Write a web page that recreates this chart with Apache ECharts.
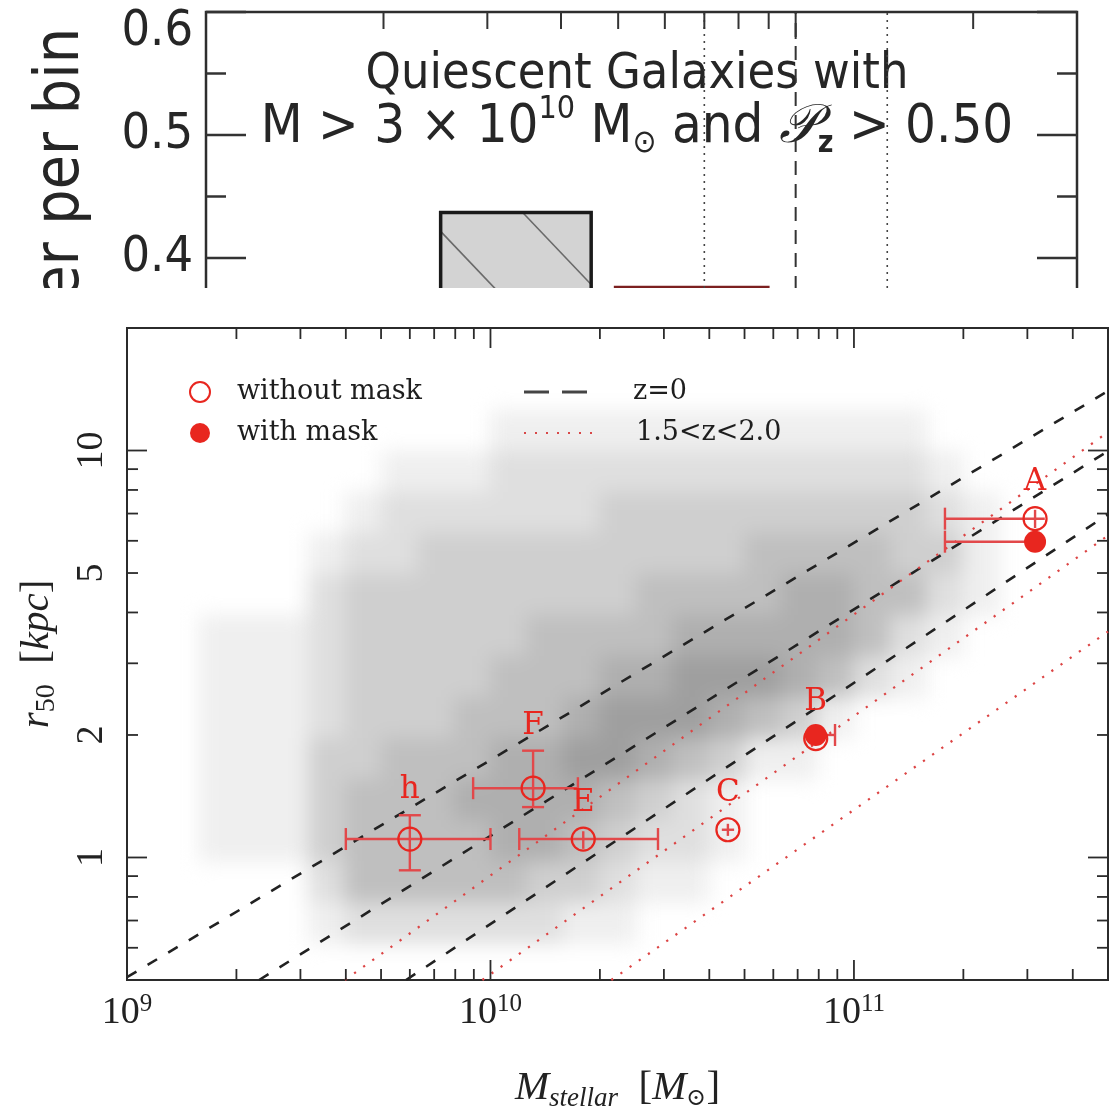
<!DOCTYPE html>
<html>
<head>
<meta charset="utf-8">
<script src="https://cdn.jsdelivr.net/npm/echarts/dist/echarts.min.js"></script>
<style>
  html, body { margin: 0; padding: 0; background: #fff; }
  #page { position: relative; width: 1112px; height: 1117px; overflow: hidden; background: #fff; }
  #histWindow { position: absolute; left: 0; top: 0; width: 1112px; height: 288px; overflow: hidden; }
  #hist { position: absolute; left: 0; top: 0; width: 1112px; height: 780px; }
  #density { position: absolute; left: 0; top: 288px; width: 1112px; height: 829px; filter: blur(10px); }
  #sizes { position: absolute; left: 0; top: 288px; width: 1112px; height: 829px; }
</style>
</head>
<body>
<div id="page">
  <div id="histWindow"><div id="hist"></div></div>
  <div id="density"></div>
  <div id="sizes"></div>
</div>
<script>
// ---------------- upper panel: histogram (size ratio, log axis) ----------------
const histBinLo = [0.25, 0.495];
const histBinHi = [0.45, 0.897];
const histHeights = [0.437, 0.376];
const histRefLines = [0.7, 1.0, 1.43];
const histYTicks = [0.05, 0.1, 0.15, 0.2, 0.25, 0.3, 0.35, 0.4, 0.45, 0.5, 0.55, 0.6];
const histXTicks = [0.2, 0.3, 0.4, 0.5, 0.6, 0.7, 0.8, 0.9, 1, 2];
const histXMajor = [1];

// ---------------- lower panel: size–mass relation ----------------
const massTicks = [1e9, 2e9, 3e9, 4e9, 5e9, 6e9, 7e9, 8e9, 9e9,
                   1e10, 2e10, 3e10, 4e10, 5e10, 6e10, 7e10, 8e10, 9e10,
                   1e11, 2e11, 3e11, 4e11];
const massMajorTicks = [1e9, 1e10, 1e11];
const sizeTicks = [0.6, 0.7, 0.8, 0.9, 1, 2, 3, 4, 5, 6, 7, 8, 9, 10];
const sizeMajorTicks = [1, 10];
const sizeTickLabels = [1, 2, 5, 10];

// local relation (z=0): centre and scatter envelope, as [start, end]
const z0Mass = [[1e9, 5e11], [2.31e9, 5e11], [5.86e9, 5e11]];
const z0Size = [[0.508, 14.0], [0.5, 9.97], [0.5, 6.97]];
// 1.5<z<2.0 relation: centre and envelope
const hizMass = [[3.98e9, 5e11], [9.5e9, 5e11], [2.15e10, 5e11]];
const hizSize = [[0.5, 11.1], [0.5, 6.18], [0.5, 3.59]];

// individual galaxies, measured without mask
const galaxyNames = ['h', 'F', 'E', 'C', 'B', 'A'];
const massNoMask = [6.0e9, 1.31e10, 1.80e10, 4.50e10, 7.85e10, 3.15e11];
const sizeNoMask = [1.11, 1.48, 1.11, 1.17, 1.96, 6.80];
const massLo = [4.0e9, 8.96e9, 1.20e10, 4.33e10, 7.85e10, 1.78e11];
const massHi = [1.0e10, 1.74e10, 2.89e10, 4.68e10, 7.85e10, 3.35e11];
const sizeLo = [0.93, 1.33, 1.05, 1.13, 1.96, 6.45];
const sizeHi = [1.27, 1.83, 1.16, 1.21, 1.96, 7.15];
// measured with mask
const massMask = [7.85e10, 3.15e11];
const sizeMask = [2.00, 5.97];
const massMaskLo = [7.85e10, 1.78e11];
const massMaskHi = [8.87e10, 3.15e11];

// background galaxy density: cells of 0.1 dex, log M from 9.2, log r rows from 1.2 (top) downwards
const densityLogMassStart = 9.2;
const densityLogSizeTop = 1.2;
const densityRows = [
  [0,0,0,0,0,0,0,0,0,0,0,0,0,0,0,0,0,0,0,0,0,0,0],
  [0,0,0,0,0,0,0,0,1,1,1,1,1,1,1,1,1,1,1,1,0,0,0],
  [0,0,0,0,0,1,1,1,2,2,2,2,2,2,2,2,2,2,2,2,1,0,0],
  [0,0,0,0,1,2,2,2,2,2,2,3,3,3,3,3,3,3,3,3,2,1,0],
  [0,0,0,1,2,2,3,3,3,3,3,3,3,3,3,4,4,4,4,3,3,1,0],
  [0,0,0,2,3,3,3,3,3,3,3,3,4,4,4,4,5,5,4,4,2,1,0],
  [1,1,1,2,3,3,3,3,3,4,4,4,4,5,5,5,5,5,4,2,1,0,0],
  [1,1,1,2,3,3,3,3,4,4,4,5,5,6,6,6,5,4,2,1,0,0,0],
  [1,1,1,2,3,3,3,4,4,4,5,6,6,6,5,4,3,1,0,0,0,0,0],
  [1,1,1,3,3,4,4,4,5,5,6,6,5,4,3,1,1,0,0,0,0,0,0],
  [1,1,1,3,4,4,4,5,5,5,5,4,3,2,1,0,0,0,0,0,0,0,0],
  [1,1,1,3,4,4,4,4,5,5,4,3,2,2,1,0,0,0,0,0,0,0,0],
  [0,0,0,2,4,4,4,4,4,3,3,2,1,1,0,0,0,0,0,0,0,0,0],
  [0,0,0,1,2,2,2,2,2,2,1,1,0,0,0,0,0,0,0,0,0,0,0]
];

// ---------------- shared styling ----------------
const sansNarrow = "'DejaVu Sans Condensed','Liberation Sans Narrow','Liberation Sans',sans-serif";
const sansTick = "'Liberation Sans Narrow','DejaVu Sans Condensed','Liberation Sans',sans-serif";
const serif = "'Liberation Serif','DejaVu Serif',serif";
const serifWide = "'DejaVu Serif','Liberation Serif',serif";
const red = '#e8261f';
const errRed = '#e2484a';
const ink = '#262626';

function seg(x1, y1, x2, y2, stroke, w) {
  return { type: 'line', shape: { x1, y1, x2, y2 }, style: { stroke, lineWidth: w } };
}

// ================= upper panel =================
const histChart = echarts.init(document.getElementById('hist'));
const refStyles = [
  { type: [2, 5], width: 1.6, color: '#444' },
  { type: [14, 9], width: 2, color: '#333' },
  { type: [2, 5], width: 1.6, color: '#444' }
];

histChart.setOption({
  animation: false,
  grid: { left: 206, right: 35, top: 12, bottom: 30, show: true,
          borderColor: '#2e2e2e', borderWidth: 2.5, backgroundColor: '#fff' },
  xAxis: { type: 'log', logBase: 10, min: 0.1, max: 3, show: false },
  yAxis: {
    type: 'value', min: 0, max: 0.6, interval: 0.1,
    axisLine: { show: false }, axisTick: { show: false }, splitLine: { show: false },
    axisLabel: {
      margin: 13,
      formatter: v => (v > 0.59 ? '{t|0.6}' : '{n|' + v.toFixed(1) + '}'),
      rich: {
        t: { fontSize: 50, fontFamily: sansTick, color: ink, padding: [40, 0, 0, 0] },
        n: { fontSize: 50, fontFamily: sansTick, color: ink }
      }
    }
  },
  graphic: [
    { type: 'text', x: 637, y: 75,
      style: { text: 'Quiescent Galaxies with', font: '50px ' + sansNarrow, fill: ink,
               textAlign: 'center', textVerticalAlign: 'middle' } },
    { type: 'text', x: 637, y: 128,
      style: {
        text: '{n|M > 3 × 10}{sup|10}{n| M}{sub|⊙}{n| and }{p|𝒫}{subz|z}{n| > 0.50}',
        textAlign: 'center', textVerticalAlign: 'middle', fill: ink,
        rich: {
          n: { fontSize: 54, fontFamily: sansNarrow, fill: ink },
          sup: { fontSize: 32, fontFamily: sansNarrow, fill: ink, padding: [0, 0, 36, 0] },
          sub: { fontSize: 32, fontFamily: sansNarrow, fill: ink, padding: [32, 0, 0, 0] },
          p: { fontSize: 54, fontFamily: "'DejaVu Serif','DejaVu Sans',serif", fontStyle: 'italic', fill: ink },
          subz: { fontSize: 30, fontWeight: 'bold', fontFamily: sansNarrow, fill: ink, padding: [32, 0, 0, 0] }
        }
      } },
    { type: 'text', x: 62, y: 28, rotation: Math.PI / 2,
      style: { text: 'Number per bin', font: '62px ' + sansNarrow, fill: ink,
               textAlign: 'right', textVerticalAlign: 'middle' } }
  ],
  series: [
    {
      type: 'custom', silent: true, clip: false, z: 2,
      data: histBinLo.map((lo, i) => [lo, histBinHi[i], histHeights[i]]),
      encode: { x: [0, 1], y: 2 },
      renderItem: (params, api) => {
        const i = params.dataIndex;
        const p0 = api.coord([api.value(0), api.value(2)]);
        const p1 = api.coord([api.value(1), 0]);
        const x0 = p0[0], y0 = p0[1], x1 = p1[0], y1 = p1[1];
        const kids = [];
        if (i === 0) {
          kids.push({ type: 'rect', shape: { x: x0, y: y0, width: x1 - x0, height: y1 - y0 },
                      style: { fill: '#d3d3d3' } });
          // diagonal hatching clipped to the bar
          const k = 1.05, step = 100, hgt = y1 - y0;
          for (let c = x0 - 18 - step * 10; c < x1; c += step) {
            const xs = Math.max(x0, c), xe = Math.min(x1, c + hgt / k);
            if (xe > xs) kids.push(seg(xs, y0 + k * (xs - c), xe, y0 + k * (xe - c), '#6a6a6a', 1.6));
          }
          kids.push({ type: 'rect', shape: { x: x0, y: y0, width: x1 - x0, height: y1 - y0 },
                      style: { fill: 'none', stroke: '#1a1a1a', lineWidth: 3.5 } });
        } else {
          kids.push({ type: 'rect', shape: { x: x0, y: y0, width: x1 - x0, height: y1 - y0 },
                      style: { fill: 'none', stroke: '#7c2020', lineWidth: 3.5 } });
        }
        return { type: 'group', children: kids };
      }
    },
    ...histRefLines.map((v, i) => ({
      type: 'line', silent: true, symbol: 'none', z: 3,
      data: [[v, 0], [v, 0.6]],
      lineStyle: refStyles[i]
    })),
    {
      type: 'custom', silent: true, clip: false, z: 5,
      data: [[1, 0.3]],
      renderItem: (params, api) => {
        const cs = params.coordSys;
        const kids = [];
        histYTicks.forEach(v => {
          const y = api.coord([1, v])[1];
          const major = Math.abs(v * 10 - Math.round(v * 10)) < 1e-6;
          const len = major ? 40 : 20;
          kids.push(seg(cs.x, y, cs.x + len, y, '#333', 2.5));
          kids.push(seg(cs.x + cs.width, y, cs.x + cs.width - len, y, '#333', 2.5));
        });
        histXTicks.forEach(v => {
          const x = api.coord([v, 0.5])[0];
          const len = histXMajor.includes(v) ? 27 : 17;
          kids.push(seg(x, cs.y, x, cs.y + len, '#333', 2));
        });
        return { type: 'group', children: kids };
      }
    }
  ]
});

// ================= lower panel =================
const gridBox = { left: 127, right: 4, top: 40, bottom: 132 };
const logX = { type: 'log', logBase: 10, min: 1e9, max: 5e11 };
const logY = { type: 'log', logBase: 10, min: 0.5, max: 20 };

// density layer (drawn separately so it can be softened)
const densityChart = echarts.init(document.getElementById('density'));
const densityCells = [];
densityRows.forEach((row, r) => row.forEach((v, c) => {
  if (v > 0) densityCells.push([densityLogMassStart + 0.1 * c, densityLogSizeTop - 0.1 * (r + 1), v]);
}));
densityChart.setOption({
  animation: false,
  grid: Object.assign({ show: false }, gridBox),
  xAxis: Object.assign({ show: false }, logX),
  yAxis: Object.assign({ show: false }, logY),
  series: [{
    type: 'custom', silent: true, clip: true,
    data: densityCells.map(d => [Math.pow(10, d[0]), Math.pow(10, d[1]), d[2]]),
    encode: { x: 0, y: 1 },
    renderItem: (params, api) => {
      const m = Math.log10(api.value(0)), r = Math.log10(api.value(1)), v = api.value(2);
      const a = api.coord([Math.pow(10, m), Math.pow(10, r + 0.1)]);
      const b = api.coord([Math.pow(10, m + 0.1), Math.pow(10, r)]);
      const g = Math.round(255 - 16 * v);
      return { type: 'rect', shape: { x: a[0] - 0.5, y: a[1] - 0.5, width: b[0] - a[0] + 1, height: b[1] - a[1] + 1 },
               style: { fill: 'rgb(' + g + ',' + g + ',' + g + ')' } };
    }
  }]
});

const sizeChart = echarts.init(document.getElementById('sizes'));
const legendY1 = 104, legendY2 = 145;

function relationSeries(massArr, sizeArr, style) {
  return massArr.map((m, i) => ({
    type: 'line', silent: true, symbol: 'none', z: 2,
    data: [[m[0], sizeArr[i][0]], [m[1], sizeArr[i][1]]],
    lineStyle: style
  }));
}

function errorSeries(mass, size, mLo, mHi, rLo, rHi, names) {
  return {
    type: 'custom', silent: true, clip: false, z: 3,
    data: mass.map((m, i) => [m, size[i], mLo[i], mHi[i], rLo[i], rHi[i]]),
    encode: { x: 0, y: 1 },
    renderItem: (params, api) => {
      const i = params.dataIndex;
      const c = api.coord([api.value(0), api.value(1)]);
      const pl = api.coord([api.value(2), api.value(1)]);
      const pr = api.coord([api.value(3), api.value(1)]);
      const pt = api.coord([api.value(0), api.value(5)]);
      const pb = api.coord([api.value(0), api.value(4)]);
      const kids = [];
      const cap = 11, w = 2.4;
      if (pr[0] - pl[0] > 1) kids.push(seg(pl[0], c[1], pr[0], c[1], errRed, w));
      if (c[0] - pl[0] > 13) kids.push(seg(pl[0], c[1] - cap, pl[0], c[1] + cap, errRed, w));
      if (pr[0] - c[0] > 13) kids.push(seg(pr[0], c[1] - cap, pr[0], c[1] + cap, errRed, w));
      if (pb[1] - pt[1] > 1) kids.push(seg(c[0], pt[1], c[0], pb[1], errRed, w));
      if (c[1] - pt[1] > 13) kids.push(seg(c[0] - cap, pt[1], c[0] + cap, pt[1], errRed, w));
      if (pb[1] - c[1] > 13) kids.push(seg(c[0] - cap, pb[1], c[0] + cap, pb[1], errRed, w));
      if (names) {
        const top = Math.min(pt[1], c[1] - 11.5);
        kids.push({ type: 'text', x: c[0], y: top - 25,
                    style: { text: names[i], font: '31px ' + serifWide, fill: red,
                             textAlign: 'center', textVerticalAlign: 'middle' } });
      }
      return { type: 'group', children: kids };
    }
  };
}

sizeChart.setOption({
  animation: false,
  grid: Object.assign({ show: true, borderColor: '#2b2b2b', borderWidth: 2, backgroundColor: 'transparent' }, gridBox),
  xAxis: Object.assign({
    axisLine: { show: false }, axisTick: { show: false }, splitLine: { show: false },
    axisLabel: {
      customValues: massMajorTicks, margin: 12,
      formatter: v => '{b|10}{s|' + Math.round(Math.log10(v)) + '}',
      rich: {
        b: { fontSize: 38, fontFamily: serif, color: '#222' },
        s: { fontSize: 25, fontFamily: serif, color: '#222', padding: [0, 0, 18, 0] }
      }
    },
    name: '{it|M}{sub|stellar}{n|  [}{it|M}{sub2|⊙}{n|]}',
    nameLocation: 'middle', nameGap: 85, nameMoveOverlap: false,
    nameTextStyle: {
      rich: {
        it: { fontSize: 41, fontStyle: 'italic', fontFamily: serif, color: '#222' },
        n: { fontSize: 41, fontFamily: serif, color: '#222' },
        sub: { fontSize: 27, fontStyle: 'italic', fontFamily: serif, color: '#222', padding: [20, 0, 0, 0] },
        sub2: { fontSize: 24, fontFamily: serif, color: '#222', padding: [20, 0, 0, 0] }
      }
    }
  }, logX),
  yAxis: Object.assign({
    axisLine: { show: false }, axisTick: { show: false }, splitLine: { show: false },
    axisLabel: {
      customValues: sizeTickLabels, margin: 16, rotate: 90,
      fontSize: 38, fontFamily: serif, color: '#222',
      formatter: v => String(v)
    },
    name: '{it|r}{sub|50}{n|  [}{it|kpc}{n|]}',
    nameLocation: 'middle', nameGap: 66, nameRotate: 90, nameMoveOverlap: false,
    nameTextStyle: {
      rich: {
        it: { fontSize: 41, fontStyle: 'italic', fontFamily: serif, color: '#222' },
        n: { fontSize: 41, fontFamily: serif, color: '#222' },
        sub: { fontSize: 28, fontFamily: serif, color: '#222', padding: [20, 0, 0, 0] }
      }
    }
  }, logY),
  graphic: [
    { type: 'circle', shape: { cx: 200, cy: legendY1, r: 10 }, style: { fill: 'none', stroke: red, lineWidth: 2 } },
    { type: 'text', x: 237, y: legendY1, style: { text: 'without mask', font: '27px ' + serifWide, fill: '#1e1e1e', textVerticalAlign: 'middle' } },
    { type: 'circle', shape: { cx: 200, cy: legendY2, r: 10 }, style: { fill: red } },
    { type: 'text', x: 237, y: legendY2, style: { text: 'with mask', font: '27px ' + serifWide, fill: '#1e1e1e', textVerticalAlign: 'middle' } },
    { type: 'line', shape: { x1: 524, y1: legendY1, x2: 549, y2: legendY1 }, style: { stroke: '#444', lineWidth: 3 } },
    { type: 'line', shape: { x1: 562, y1: legendY1, x2: 587, y2: legendY1 }, style: { stroke: '#444', lineWidth: 3 } },
    { type: 'text', x: 633, y: legendY1, style: { text: 'z=0', font: '27px ' + serifWide, fill: '#1e1e1e', textVerticalAlign: 'middle' } },
    { type: 'line', shape: { x1: 524, y1: legendY2, x2: 595, y2: legendY2 }, style: { stroke: '#d84848', lineWidth: 2.2, lineDash: [2, 9] } },
    { type: 'text', x: 636, y: legendY2, style: { text: '1.5<z<2.0', font: '27px ' + serifWide, fill: '#1e1e1e', textVerticalAlign: 'middle' } }
  ],
  series: [
    ...relationSeries(z0Mass, z0Size, { type: [11, 13], width: 2.6, color: '#222' }),
    ...relationSeries(hizMass, hizSize, { type: [2.2, 9], width: 2.2, color: '#dc4444' }),
    errorSeries(massNoMask, sizeNoMask, massLo, massHi, sizeLo, sizeHi, galaxyNames),
    errorSeries(massMask, sizeMask, massMaskLo, massMaskHi, sizeMask, sizeMask, null),
    {
      type: 'scatter', silent: true, z: 4, symbol: 'circle', symbolSize: 23,
      data: massNoMask.map((m, i) => [m, sizeNoMask[i]]),
      itemStyle: { color: 'rgba(255,255,255,0)', borderColor: red, borderWidth: 2.2, opacity: 1 }
    },
    {
      type: 'scatter', silent: true, z: 5, symbol: 'circle', symbolSize: 22,
      data: massMask.map((m, i) => [m, sizeMask[i]]),
      itemStyle: { color: red, opacity: 1 }
    },
    {
      type: 'custom', silent: true, clip: false, z: 6,
      data: [[1e10, 1]],
      renderItem: (params, api) => {
        const cs = params.coordSys;
        const kids = [];
        const bottom = cs.y + cs.height, right = cs.x + cs.width;
        massTicks.forEach(v => {
          const x = api.coord([v, 1])[0];
          const len = massMajorTicks.includes(v) ? 20 : 11;
          kids.push(seg(x, bottom, x, bottom - len, '#2b2b2b', 1.8));
          kids.push(seg(x, cs.y, x, cs.y + len, '#2b2b2b', 1.8));
        });
        sizeTicks.forEach(v => {
          const y = api.coord([1e10, v])[1];
          const len = sizeMajorTicks.includes(v) ? 20 : 11;
          kids.push(seg(cs.x, y, cs.x + len, y, '#2b2b2b', 1.8));
          kids.push(seg(right, y, right - len, y, '#2b2b2b', 1.8));
        });
        return { type: 'group', children: kids };
      }
    }
  ]
});
</script>
</body>
</html>
